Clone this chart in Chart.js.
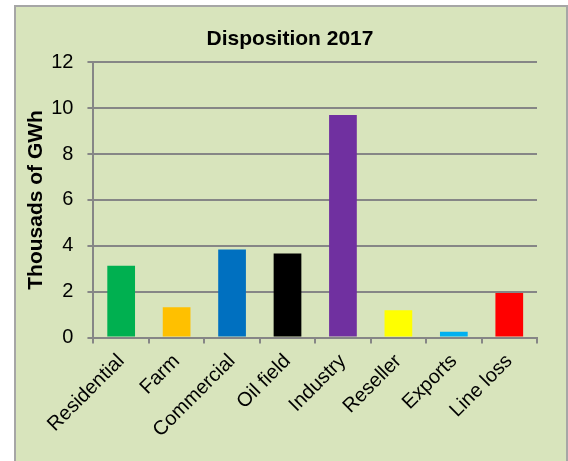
<!DOCTYPE html>
<html>
<head>
<meta charset="utf-8">
<script src="https://cdn.jsdelivr.net/npm/chart.js@4"></script>
<style>
  body { margin: 0; background: #fff; }
  #box {
    position: absolute; left: 14px; top: 5px;
    width: 550px; height: 470px;
    border: 2px solid #a6a6a6;
    background: #d8e4bc;
  }
  #wrap { position: relative; width: 550px; height: 456px; }
</style>
</head>
<body>
<div id="box"><div id="wrap"><canvas id="dispChart"></canvas></div></div>
<script>
const categories = ['Residential', 'Farm', 'Commercial', 'Oil field', 'Industry', 'Reseller', 'Exports', 'Line loss']
const values = [3.13, 1.32, 3.84, 3.66, 9.7, 1.19, 0.26, 1.94]
const barColors = ['#00b050', '#ffc000', '#0070c0', '#000000', '#7030a0', '#ffff00', '#00b0f0', '#ff0000']
const yTicks = [0, 2, 4, 6, 8, 10, 12]

const font = "'Liberation Sans', Arial, sans-serif"
const gray = '#868686'

const ctx = document.getElementById('dispChart').getContext('2d')
new Chart(ctx, {
    type: 'bar',
    data: {
        labels: categories,
        datasets: [{
            label: 'Disposition 2017',
            data: values,
            backgroundColor: barColors,
            categoryPercentage: 1,
            barPercentage: 0.5
        }]
    },
    options: {
        responsive: true,
        maintainAspectRatio: false,
        animation: false,
        layout: { padding: { left: 27, right: 29, top: 0, bottom: 15 } },
        plugins: {
            legend: { display: false },
            tooltip: { enabled: false },
            title: {
                display: true,
                text: 'Disposition 2017',
                color: '#000',
                font: { family: font, size: 21, weight: 'bold' },
                padding: { top: 20, bottom: 10 }
            }
        },
        scales: {
            x: {
                offset: true,
                // rotated first label may hang past the y axis, like the original
                afterFit: scale => { scale.paddingLeft = 0 },
                grid: { offset: true, drawOnChartArea: false, drawTicks: true, tickLength: 6, color: gray, lineWidth: 2 },
                border: { color: gray, width: 2 },
                ticks: {
                    color: '#000',
                    font: { family: font, size: 20 },
                    minRotation: 45, maxRotation: 45,
                    padding: 6
                }
            },
            y: {
                min: 0, max: 12,
                afterBuildTicks: axis => { axis.ticks = yTicks.map(v => ({ value: v })) },
                grid: { color: gray, lineWidth: 2, tickLength: 6 },
                border: { color: gray, width: 2 },
                ticks: { color: '#000', font: { family: font, size: 20 }, padding: 14 },
                title: {
                    display: true,
                    text: 'Thousads of GWh',
                    color: '#000',
                    font: { family: font, size: 21, weight: 'bold' },
                    padding: { top: -19, bottom: -12 }
                }
            }
        }
    }
})
</script>
</body>
</html>
